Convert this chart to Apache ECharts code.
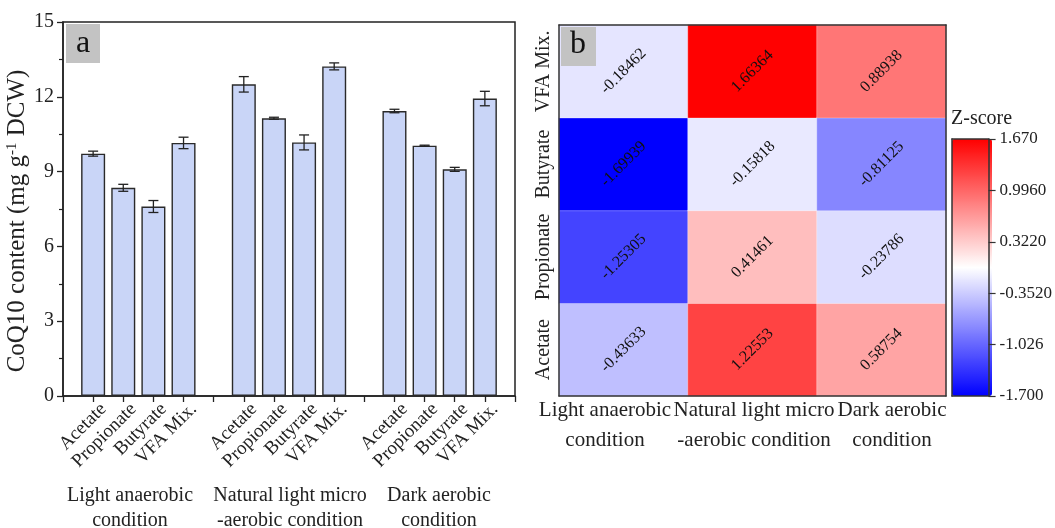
<!DOCTYPE html>
<html>
<head>
<meta charset="utf-8">
<script src="https://cdn.jsdelivr.net/npm/echarts@6/dist/echarts.min.js"></script>
<style>
  html, body { margin: 0; padding: 0; background: #fff; }
  #main { width: 1055px; height: 528px; }
</style>
</head>
<body>
<div id="main"></div>
<script>
// panel a data
let substrates = ['Acetate', 'Propionate', 'Butyrate', 'VFA Mix.'];
let conditions = ['Light anaerobic\ncondition', 'Natural light micro\n-aerobic condition', 'Dark aerobic\ncondition'];
let meanLight = [9.72, 8.35, 7.60, 10.15];
let errLight = [0.10, 0.14, 0.24, 0.23];
let meanNatural = [12.50, 11.14, 10.17, 13.22];
let errNatural = [0.31, 0.04, 0.30, 0.14];
let meanDark = [11.43, 10.04, 9.09, 11.93];
let errDark = [0.07, 0.02, 0.08, 0.29];
let yTicks = [0, 3, 6, 9, 12, 15];

// panel b data (z-scores, order: Acetate, Propionate, Butyrate, VFA Mix.)
let zLight = [-0.43633, -1.25305, -1.69939, -0.18462];
let zNatural = [1.22553, 0.41461, -0.15818, 1.66364];
let zDark = [0.58754, -0.23786, -0.81125, 0.88938];
let colorTicks = ['-1.700', '-1.026', '-0.3520', '0.3220', '0.9960', '1.670'];
let zMin = -1.7, zMax = 1.67;

let font = 'Liberation Serif';
let ink = '#222';

// build slot categories: blank, 4 bars, blank, 4 bars, blank, 4 bars, blank
let means = [meanLight, meanNatural, meanDark];
let errs = [errLight, errNatural, errDark];
let slots = [''];
let barData = [null];
let errData = [];
means.forEach(function (m, g) {
    m.forEach(function (v, i) {
        slots.push(substrates[i]);
        barData.push(v);
        errData.push([slots.length - 1, v, errs[g][i]]);
    });
    slots.push('');
    barData.push(null);
});

let heatData = [];
[zLight, zNatural, zDark].forEach(function (col, x) {
    col.forEach(function (v, y) { heatData.push([x, y, v]); });
});

let lineAxis = function (extra) {
    return Object.assign({
        axisLine: { show: true, lineStyle: { color: '#333', width: 1.5 } },
        axisTick: { show: false },
        axisLabel: { show: false },
        splitLine: { show: false },
        z: 10
    }, extra);
};

// captions: under panel a groups and under panel b columns (b ones nudged like the original)
let captionA = [130, 290, 439];
let captionB = [605, 754, 892];
let captions = [];
conditions.forEach(function (c, i) {
    captions.push({
        type: 'text', x: captionA[i], y: 483,
        style: { text: c, font: '20px "Liberation Serif"', fill: ink, align: 'center', verticalAlign: 'top', lineHeight: 25 }
    });
    captions.push({
        type: 'text', x: captionB[i], y: 395,
        style: { text: c, font: '21px "Liberation Serif"', fill: ink, align: 'center', verticalAlign: 'top', lineHeight: 30 }
    });
});

let myChart = echarts.init(document.getElementById('main'));
let option = {
    animation: false,
    textStyle: { fontFamily: font },
    grid: [
        { left: 63, right: 540, top: 22, bottom: 132, show: true, borderColor: ink, borderWidth: 1.5 },
        { left: 559, right: 109, top: 25, bottom: 132 },
        { left: 952, width: 40, top: 139, bottom: 132 }
    ],
    xAxis: [
        {
            type: 'category', gridIndex: 0, data: slots, boundaryGap: false,
            axisLine: { lineStyle: { color: ink, width: 1.5 } },
            axisTick: { show: true, interval: 0, length: 6, lineStyle: { color: ink, width: 1.3 } },
            axisLabel: {
                interval: 0, rotate: 45, fontSize: 19, color: ink, margin: 0, fontFamily: font,
                verticalAlign: 'top', padding: [5, 0, 0, 0]
            }
        },
        {
            type: 'category', gridIndex: 1, data: conditions,
            axisLine: { lineStyle: { color: '#333', width: 1.5 } },
            axisTick: { show: false },
            axisLabel: { show: false },
            z: 10
        },
        lineAxis({ type: 'category', gridIndex: 1, data: conditions, position: 'top' }),
        lineAxis({ type: 'category', gridIndex: 2, data: [''], position: 'bottom' }),
        lineAxis({ type: 'category', gridIndex: 2, data: [''], position: 'top' })
    ],
    yAxis: [
        {
            type: 'value', gridIndex: 0, min: yTicks[0], max: yTicks[yTicks.length - 1], interval: 3,
            name: '{a|CoQ10 content (mg g}{s|-1}{a| DCW)}',
            nameLocation: 'middle', nameGap: 24,
            nameTextStyle: {
                padding: [0, 24, 0, 0],
                rich: {
                    a: { fontSize: 25, fontFamily: font, color: ink, lineHeight: 26 },
                    s: { fontSize: 15, fontFamily: font, color: ink, verticalAlign: 'top', lineHeight: 26 }
                }
            },
            axisLine: { show: true, lineStyle: { color: ink, width: 1.5 } },
            axisTick: { show: true, length: 6, lineStyle: { color: ink, width: 1.3 } },
            minorTick: { show: true, splitNumber: 2, length: 4, lineStyle: { color: ink, width: 1.2 } },
            axisLabel: { fontSize: 20, color: ink, margin: 9, fontFamily: font },
            splitLine: { show: false }
        },
        {
            type: 'category', gridIndex: 1, data: substrates,
            axisLine: { lineStyle: { color: '#333', width: 1.5 } },
            axisTick: { show: false },
            axisLabel: { interval: 0, rotate: 90, fontSize: 20, color: ink, margin: 5, fontFamily: font },
            z: 10
        },
        lineAxis({ type: 'category', gridIndex: 1, data: substrates, position: 'right' }),
        lineAxis({ type: 'category', gridIndex: 2, data: colorTicks, position: 'left' }),
        {
            type: 'category', gridIndex: 2, data: colorTicks, position: 'right', boundaryGap: false,
            axisLine: { show: true, lineStyle: { color: '#333', width: 1.5 } },
            axisTick: { show: true, interval: 0, length: 7, lineStyle: { color: '#333', width: 1.2 } },
            axisLabel: { interval: 0, fontSize: 17, color: ink, margin: 11, fontFamily: font },
            z: 10
        }
    ],
    visualMap: {
        type: 'continuous', seriesIndex: 2, min: zMin, max: zMax,
        calculable: false, showLabel: false, text: null,
        orient: 'vertical', left: 952, top: 139, itemWidth: 40, itemHeight: 257, padding: 0,
        inRange: { color: ['#0000ff', '#ffffff', '#ff0000'] }
    },
    series: [
        {
            type: 'bar', xAxisIndex: 0, yAxisIndex: 0, data: barData, barWidth: 24,
            itemStyle: { color: '#c9d5f7', borderColor: '#2a2a2a', borderWidth: 1.4 }
        },
        {
            type: 'custom', xAxisIndex: 0, yAxisIndex: 0, data: errData, z: 5,
            renderItem: function (params, api) {
                let x = api.value(0), y = api.value(1), e = api.value(2);
                let hi = api.coord([x, y + e]);
                let lo = api.coord([x, y - e]);
                let w = 5;
                let st = { stroke: ink, lineWidth: 1.3 };
                return {
                    type: 'group',
                    children: [
                        { type: 'line', shape: { x1: hi[0], y1: hi[1], x2: lo[0], y2: lo[1] }, style: st },
                        { type: 'line', shape: { x1: hi[0] - w, y1: hi[1], x2: hi[0] + w, y2: hi[1] }, style: st },
                        { type: 'line', shape: { x1: lo[0] - w, y1: lo[1], x2: lo[0] + w, y2: lo[1] }, style: st }
                    ]
                };
            }
        },
        {
            type: 'heatmap', xAxisIndex: 1, yAxisIndex: 1, data: heatData,
            itemStyle: { borderColor: 'rgba(255,255,255,0.3)', borderWidth: 1 },
            label: {
                show: true, rotate: 45, fontSize: 16, color: '#111', fontFamily: font,
                formatter: function (p) { return p.value[2].toFixed(5); }
            }
        }
    ],
    graphic: [
        { type: 'rect', left: 66, top: 24, shape: { width: 34, height: 39 }, style: { fill: '#c3c3c3' }, z: 20 },
        { type: 'text', x: 83, y: 44, style: { text: 'a', font: '32px "Liberation Serif"', fill: '#111', align: 'center', verticalAlign: 'middle' }, z: 21 },
        { type: 'rect', left: 561, top: 27, shape: { width: 35, height: 39 }, style: { fill: '#c3c3c3' }, z: 20 },
        { type: 'text', x: 578, y: 45, style: { text: 'b', font: '32px "Liberation Serif"', fill: '#111', align: 'center', verticalAlign: 'middle' }, z: 21 },
        { type: 'text', x: 951, y: 119, style: { text: 'Z-score', font: '20px "Liberation Serif"', fill: ink, verticalAlign: 'middle' } }
    ].concat(captions)
};
myChart.setOption(option);
</script>
</body>
</html>
